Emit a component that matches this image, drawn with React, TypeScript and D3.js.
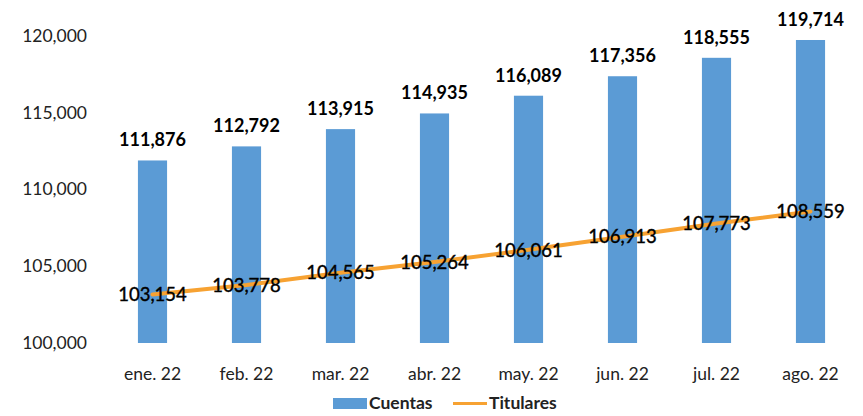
import React, { useEffect, useRef } from "react";
import * as d3 from "d3";

const months = ["ene. 22", "feb. 22", "mar. 22", "abr. 22", "may. 22", "jun. 22", "jul. 22", "ago. 22"];
const cuentas = [111876, 112792, 113915, 114935, 116089, 117356, 118555, 119714];
const titulares = [103154, 103778, 104565, 105264, 106061, 106913, 107773, 108559];
const yTicks = [100000, 105000, 110000, 115000, 120000];

const W = 863;
const H = 416;
const BLUE = "#5B9BD5";
const ORANGE = "#F7A232";
const FONT = "Lato, 'Open Sans', sans-serif";

const App = () => {
  const ref = useRef<SVGSVGElement>(null);

  useEffect(() => {
    const svg = d3.select(ref.current);
    svg.selectAll("*").remove();

    const x = d3.scaleBand().domain(months).range([105.5, 857.5]).paddingInner(0.69).paddingOuter(0.345);
    const y = d3.scaleLinear().domain([100000, 120000]).range([343, 35.6]);
    const fmt = d3.format(",");
    const cx = (m: string) => (x(m) as number) + x.bandwidth() / 2;

    // y axis labels
    svg.append("g").selectAll("text").data(yTicks).enter().append("text")
      .attr("x", 87).attr("y", (d) => y(d)).attr("dy", "0.35em")
      .attr("text-anchor", "end").attr("font-family", FONT).attr("font-size", 17.5)
      .attr("fill", "#222").text((d) => fmt(d));

    // x axis labels
    svg.append("g").selectAll("text").data(months).enter().append("text")
      .attr("x", (d) => cx(d)).attr("y", 380)
      .attr("text-anchor", "middle").attr("font-family", FONT).attr("font-size", 17.5)
      .attr("fill", "#222").text((d) => d);

    // bars
    svg.append("g").selectAll("rect").data(cuentas).enter().append("rect")
      .attr("x", (d, i) => x(months[i]) as number).attr("width", x.bandwidth())
      .attr("y", (d) => y(d)).attr("height", (d) => y(100000) - y(d))
      .attr("fill", BLUE);

    // bar labels
    svg.append("g").selectAll("text").data(cuentas).enter().append("text")
      .attr("x", (d, i) => cx(months[i])).attr("y", (d) => y(d) - 14)
      .attr("text-anchor", "middle").attr("font-family", FONT).attr("font-size", 18)
      .attr("font-weight", "bold").attr("fill", "#000").text((d) => fmt(d));

    // line
    const line = d3.line<number>().x((d, i) => cx(months[i])).y((d) => y(d));
    svg.append("path").datum(titulares).attr("d", line).attr("fill", "none")
      .attr("stroke", ORANGE).attr("stroke-width", 4).attr("stroke-linecap", "round");

    // line labels
    svg.append("g").selectAll("text").data(titulares).enter().append("text")
      .attr("x", (d, i) => cx(months[i])).attr("y", (d) => y(d)).attr("dy", "0.36em")
      .attr("text-anchor", "middle").attr("font-family", FONT).attr("font-size", 18.5)
      .attr("fill", "#000").attr("stroke", "#000").attr("stroke-width", 0.4).text((d) => fmt(d));

    // legend
    const lg = svg.append("g").attr("font-family", FONT).attr("font-size", 17.5).attr("font-weight", "bold").attr("fill", "#222");
    lg.append("rect").attr("x", 333).attr("y", 398).attr("width", 34).attr("height", 11).attr("fill", BLUE);
    lg.append("text").attr("x", 369).attr("y", 409).text("Cuentas");
    lg.append("line").attr("x1", 453).attr("x2", 487).attr("y1", 403.5).attr("y2", 403.5)
      .attr("stroke", ORANGE).attr("stroke-width", 3);
    lg.append("text").attr("x", 489).attr("y", 409).text("Titulares");
  }, []);

  return (
    <div style={{ position: "absolute", left: 0, top: 0 }}>
      <svg ref={ref} width={W} height={H} style={{ display: "block", background: "#fff" }}></svg>
    </div>
  );
};

export default App;
